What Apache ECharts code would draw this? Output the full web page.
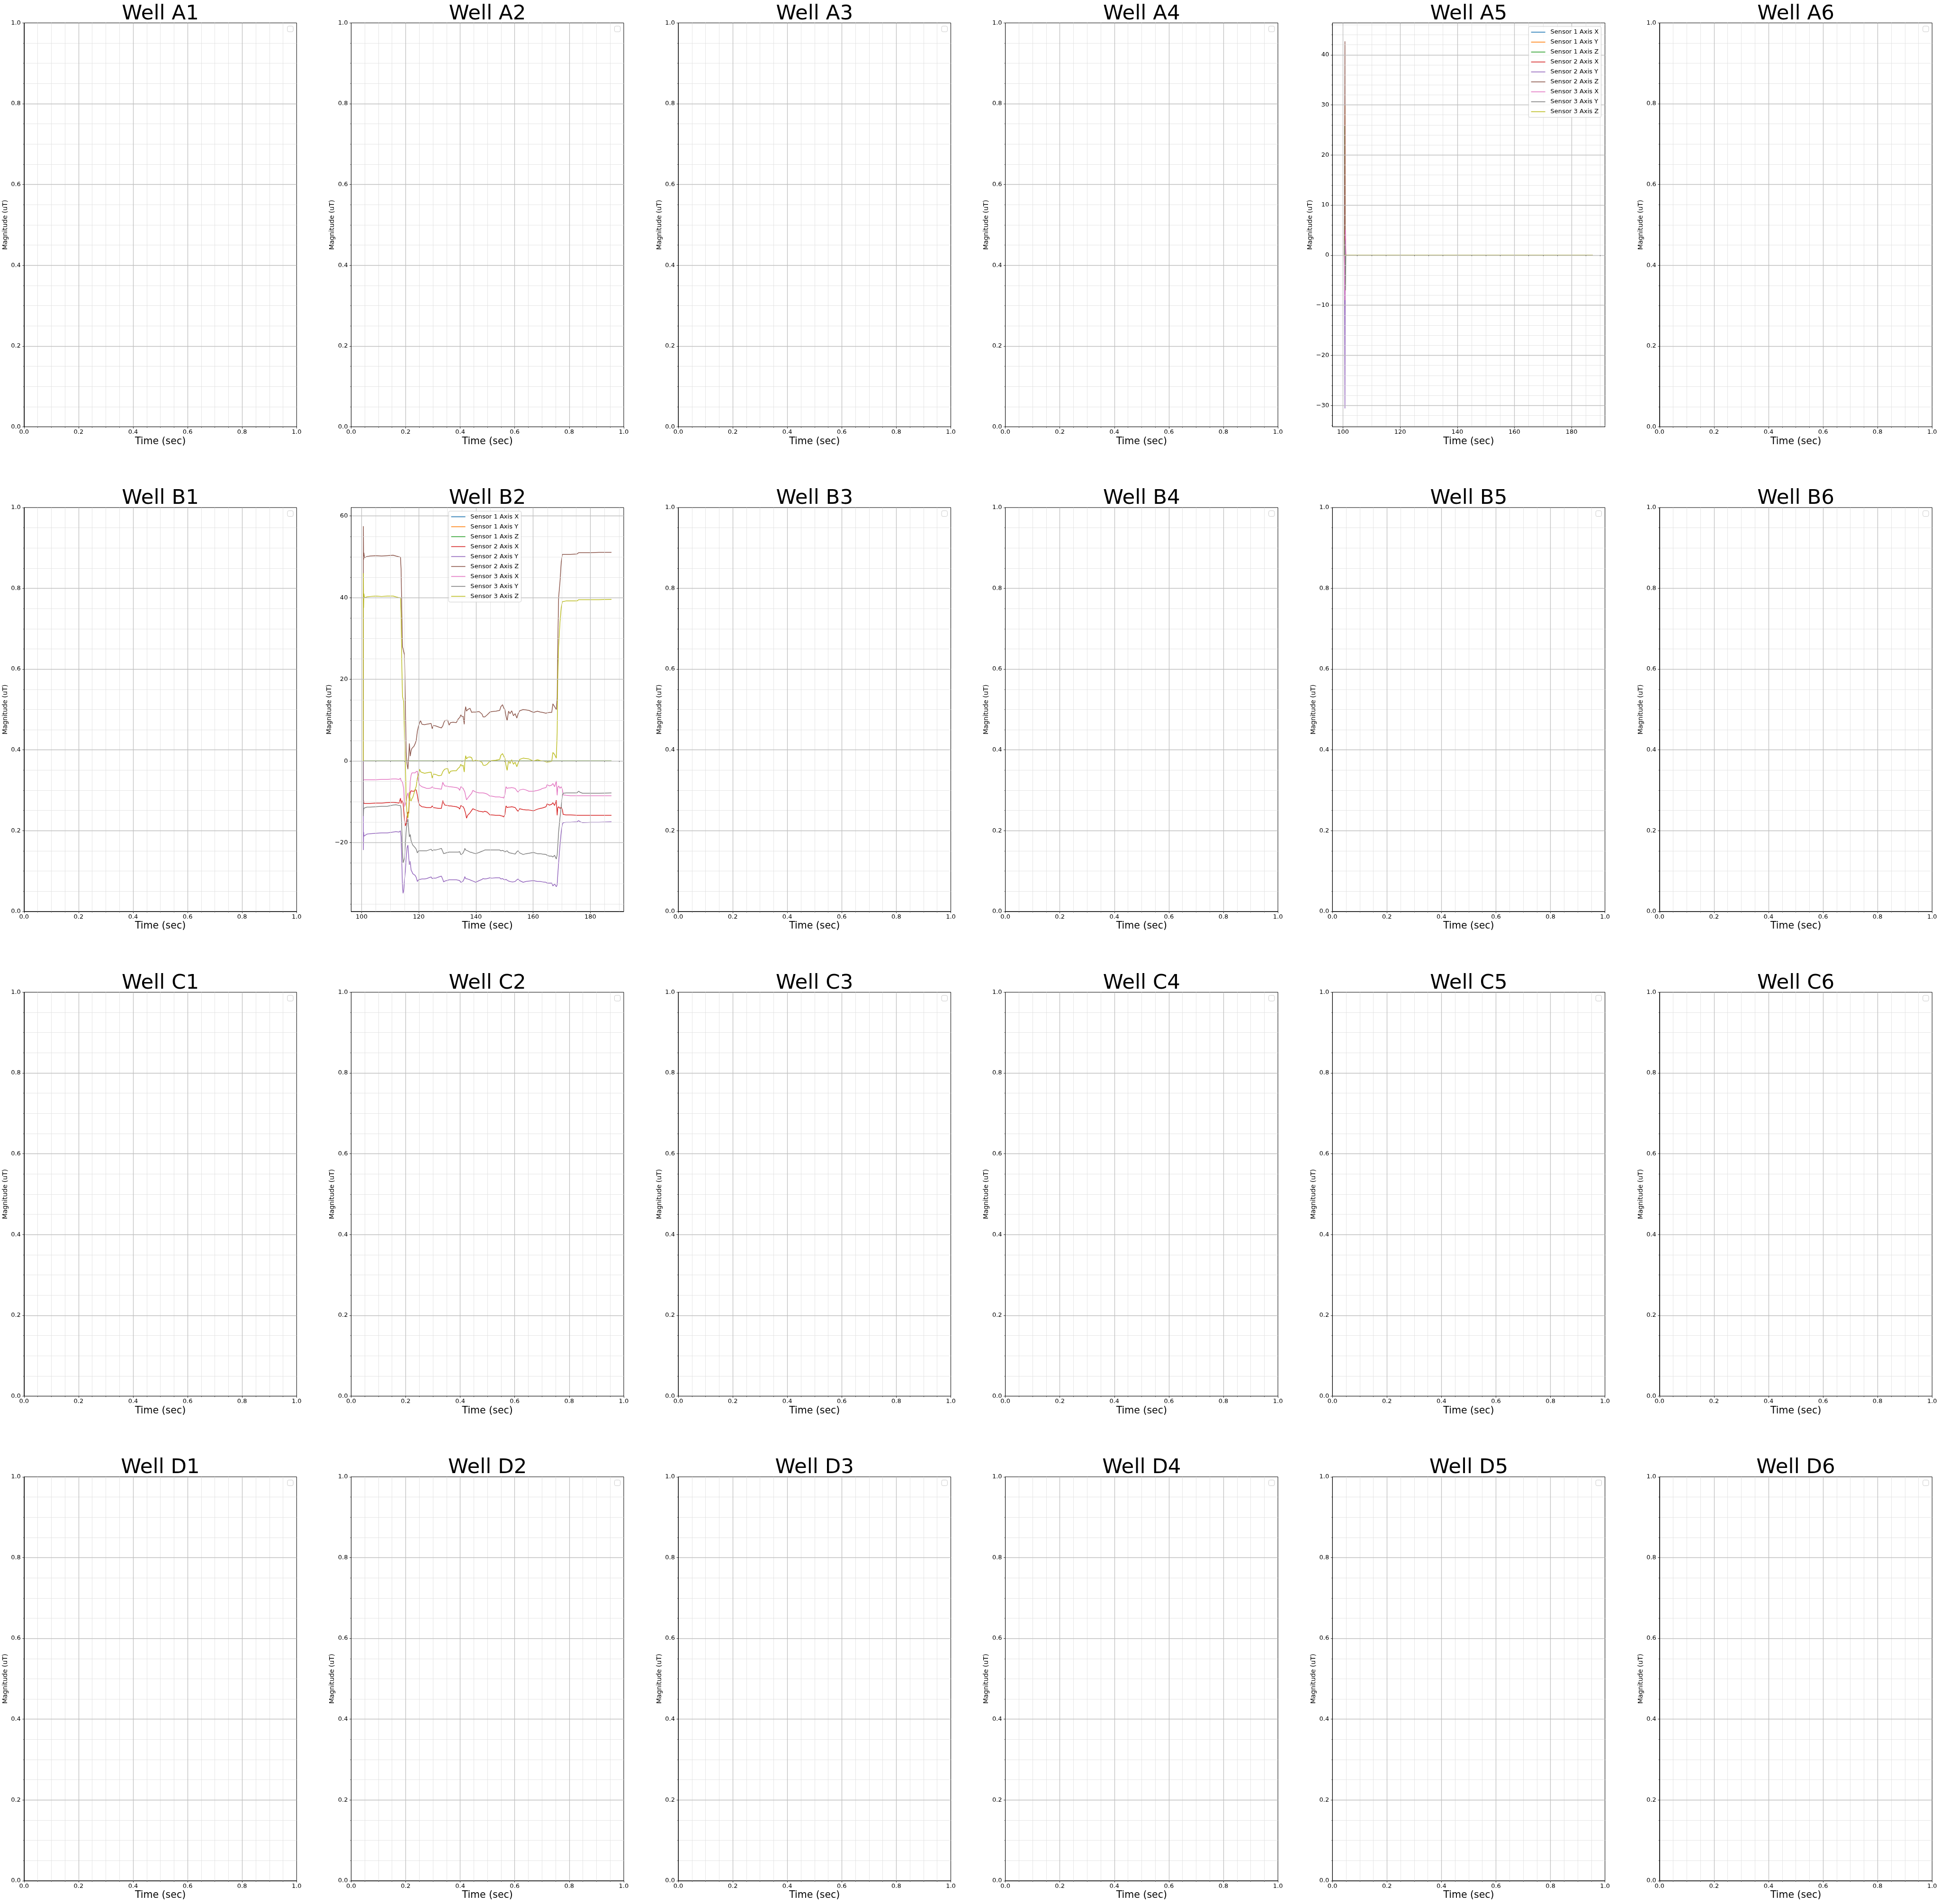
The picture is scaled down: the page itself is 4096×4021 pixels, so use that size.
<!DOCTYPE html>
<html><head><meta charset="utf-8">
<script src="https://cdn.jsdelivr.net/npm/echarts@6/dist/echarts.min.js"></script>
<style>html,body{margin:0;padding:0;background:#fff}#c{width:4096px;height:4021px}</style>
</head><body><div id="c"></div>
<script>
// ---------- labels / categories ----------
const wellRows = ['A', 'B', 'C', 'D'];
const wellCols = ['1', '2', '3', '4', '5', '6'];
const sensorNames = ['Sensor 1 Axis X', 'Sensor 1 Axis Y', 'Sensor 1 Axis Z',
  'Sensor 2 Axis X', 'Sensor 2 Axis Y', 'Sensor 2 Axis Z',
  'Sensor 3 Axis X', 'Sensor 3 Axis Y', 'Sensor 3 Axis Z'];
const sensorColors = ['#1f77b4', '#ff7f0e', '#2ca02c', '#d62728', '#9467bd', '#8c564b', '#e377c2', '#7f7f7f', '#bcbd22'];

// ---------- tick values ----------
const unitTicks = [0, 0.2, 0.4, 0.6, 0.8, 1.0];
const unitMinorTicks = [0.05, 0.1, 0.15, 0.25, 0.3, 0.35, 0.45, 0.5, 0.55, 0.65, 0.7, 0.75, 0.85, 0.9, 0.95];
const timeTicks = [100, 120, 140, 160, 180];
const timeMinorTicks = [105, 110, 115, 125, 130, 135, 145, 150, 155, 165, 170, 175, 185, 190];
const a5MagTicks = [-30, -20, -10, 0, 10, 20, 30, 40];
const a5MagMinorTicks = [-34, -32, -28, -26, -24, -22, -18, -16, -14, -12, -8, -6, -4, -2, 2, 4, 6, 8, 12, 14, 16, 18, 22, 24, 26, 28, 32, 34, 36, 38, 42, 44, 46];
const b2MagTicks = [-20, 0, 20, 40, 60];
const b2MagMinorTicks = [-35, -30, -25, -15, -10, -5, 5, 10, 15, 25, 30, 35, 45, 50, 55];

// ---------- Well A5 data ----------
const a5Time = [100.5, 100.58, 100.68, 100.78, 100.88, 101.0, 187.4];
const a5S1X = [0, 0, 0, 0, 0, 0, 0];
const a5S1Y = [0, 0, 30.0, 0, 0, 0, 0];
const a5S1Z = [0, 25.8, 0, 0, 0, 0, 0];
const a5S2X = [0, 0, -10.5, 1.0, 0, 0, 0];
const a5S2Y = [0, 0, -30.6, -7.0, 0, 0, 0];
const a5S2Z = [0, 0, 42.7, -7.1, 3.3, 0, 0];
const a5S3X = [0, 0, -9.0, 0, 5.1, 0, 0];
const a5S3Y = [0, 0, 3.0, -2.0, -7.0, 0, 0];
const a5S3Z = [0, 0, 0, 0, 0, 0, 0];

// ---------- Well B2 data ----------
const b2S1Time = [100.55, 187.4];
const b2S1X = [0, 0];
const b2S1Y = [0, 0];
const b2S1Z = [0, 0];
const b2Time = [100.55,100.62,100.7,100.8,101.0,101.9,103,105,107,109,
 111,112,113.1,113.6,113.8,114.1,114.3,114.5,114.7,115.0,
 115.3,115.6,115.9,116.2,116.5,116.7,117.0,117.3,117.6,117.9,
 118.3,118.7,119.1,119.5,119.9,120.3,120.6,121.1,122,122.7,
 123.5,124.3,124.7,125.1,125.9,127,127.9,128.4,128.7,129.1,
 130.1,130.6,131.1,132,133.1,133.9,134.3,134.7,135.1,135.5,
 135.9,136.1,136.4,136.7,137.1,137.9,138.5,138.9,139.9,141.1,
 142.1,142.5,143.1,143.9,144.9,145.5,146.9,148.3,148.7,149.3,
 149.7,150.1,150.5,150.9,151.4,151.9,152.5,153.1,153.7,154.3,
 154.7,155.3,156.5,157.5,158.5,160.1,161.5,162.5,163.3,164.5,
 164.9,165.7,166.5,166.9,167.5,168.1,168.4,168.6,168.9,169.4,
 169.8,170.2,170.5,171.5,173,175.3,175.9,176.5,177.3,180,
 183,187.4];
const b2S2X = [0,-10.0,-9.7,-10.4,-10.4,-10.4,-10.4,-10.3,-10.3,-10.2,
 -10.1,-10.2,-10.3,-9.1,-10.4,-9.7,-10.0,-10.3,-12.0,-14.4,
 -15.9,-15.2,-13.5,-12.5,-12.8,-9.3,-7.8,-7.3,-7.2,-7.4,
 -7.4,-7.1,-7.1,-8.4,-10.1,-10.8,-11.0,-11.2,-11.3,-11.4,
 -11.4,-11.4,-11.0,-11.4,-11.5,-11.6,-11.6,-9.7,-10.3,-10.8,
 -10.9,-11.0,-11.0,-11.1,-11.2,-11.4,-11.8,-10.9,-11.1,-11.2,
 -11.7,-11.8,-12.9,-14.0,-13.3,-12.7,-12.1,-11.7,-12.0,-12.3,
 -12.4,-12.5,-12.3,-12.5,-13.2,-13.2,-13.3,-13.3,-13.4,-13.5,
 -13.7,-13.1,-11.0,-11.4,-11.3,-11.3,-11.2,-11.3,-11.4,-12.0,
 -12.3,-11.7,-11.9,-12.0,-12.0,-12.2,-11.8,-11.6,-11.5,-11.2,
 -10.5,-10.8,-10.6,-10.2,-10.9,-9.6,-13.3,-11.5,-11.2,-11.6,
 -11.3,-11.8,-13.1,-13.2,-13.2,-13.3,-13.3,-13.3,-13.3,-13.3,
 -13.3,-13.3];
const b2S2Y = [0,-21.8,-17.4,-18.4,-18.2,-17.9,-17.8,-17.7,-17.6,-17.6,
 -17.4,-17.3,-17.4,-17.1,-18.6,-25.9,-31.0,-32.4,-31.8,-29.0,
 -27.0,-23.5,-21.2,-20.6,-23.7,-25.4,-24.6,-26.7,-27.1,-27.6,
 -27.8,-28.0,-28.5,-29.5,-29.1,-29.0,-29.0,-28.9,-28.9,-28.8,
 -28.6,-28.4,-28.8,-28.7,-28.7,-28.4,-28.2,-29.0,-29.6,-29.4,
 -29.2,-29.1,-29.1,-29.1,-29.1,-29.2,-29.3,-29.7,-29.6,-29.4,
 -28.8,-28.3,-28.8,-28.9,-28.9,-29.1,-29.3,-29.4,-29.7,-29.3,
 -29.0,-28.8,-28.9,-28.8,-28.6,-28.7,-28.6,-28.6,-28.9,-28.8,
 -29.0,-29.1,-29.0,-29.2,-29.4,-29.5,-29.6,-29.6,-29.5,-29.1,
 -28.9,-29.3,-29.7,-29.5,-29.4,-29.3,-29.5,-29.5,-29.6,-29.7,
 -29.9,-29.9,-29.9,-30.6,-30.1,-30.8,-30.3,-28.0,-25.0,-20.5,
 -17.5,-15.5,-15.1,-15.0,-15.0,-14.9,-14.6,-14.9,-15.1,-15.0,
 -15.0,-14.9];
const b2S2Z = [0,57.5,49.3,51.0,49.8,50.1,50.2,50.3,50.2,50.3,
 50.4,50.2,50.0,49.9,47.0,35.0,28.0,27.5,26.8,26.0,
 14.0,2.0,-0.8,-2.0,1.5,4.3,1.2,2.5,3.1,3.0,
 3.6,4.2,5.0,7.3,8.5,9.4,9.9,9.0,8.9,9.0,
 9.1,9.2,7.9,8.7,8.6,8.3,8.1,8.6,9.3,9.9,
 10.0,8.8,9.4,9.5,9.4,10.4,10.6,11.3,10.8,11.0,
 9.0,12.0,13.3,12.2,12.6,12.9,11.9,12.0,12.0,12.1,
 11.5,10.8,10.8,11.3,12.0,12.1,12.2,12.4,13.3,13.8,
 13.0,12.6,11.0,9.9,12.2,11.6,12.3,11.1,11.6,10.5,
 11.5,12.3,12.6,12.5,12.4,11.9,12.2,12.0,11.9,11.7,
 11.8,11.9,11.9,14.0,13.3,12.6,15.5,28.0,40.0,44.0,
 48.5,50.6,50.6,50.6,50.6,50.7,51.0,51.0,51.0,51.0,
 51.1,51.1];
const b2S3X = [0,-4.6,-4.7,-4.6,-4.6,-4.6,-4.6,-4.6,-4.5,-4.5,
 -4.4,-4.4,-4.5,-4.2,-4.8,-5.0,-5.2,-5.4,-6.7,-11.2,
 -11.0,-9.9,-8.5,-7.8,-9.0,-9.5,-5.0,-3.5,-2.9,-2.7,
 -2.9,-2.9,-2.6,-2.5,-5.0,-5.9,-6.1,-6.3,-6.5,-6.7,
 -6.7,-6.6,-6.3,-6.6,-6.7,-6.8,-6.9,-5.2,-5.7,-6.1,
 -6.2,-6.3,-6.3,-6.4,-6.5,-6.7,-7.2,-6.3,-6.5,-6.7,
 -7.3,-7.6,-8.6,-9.5,-9.1,-8.4,-7.9,-7.2,-7.6,-7.8,
 -7.8,-7.8,-7.9,-8.1,-8.6,-8.6,-8.8,-8.8,-8.9,-8.9,
 -9.1,-8.2,-6.3,-6.7,-6.6,-6.6,-6.5,-6.6,-6.7,-7.3,
 -7.6,-7.1,-6.9,-7.1,-7.4,-7.4,-7.2,-7.0,-6.7,-6.5,
 -5.8,-6.1,-5.9,-5.5,-6.3,-4.9,-8.4,-6.5,-6.1,-6.7,
 -6.3,-6.9,-8.3,-8.4,-8.5,-8.5,-8.5,-8.5,-8.5,-8.5,
 -8.5,-8.5];
const b2S3Y = [0,-13.5,-11.8,-11.6,-11.5,-11.3,-11.3,-11.2,-11.1,-11.1,
 -10.8,-10.7,-10.9,-10.9,-11.8,-17.4,-22.9,-24.9,-24.5,-23.7,
 -20.3,-17.0,-15.0,-14.2,-17.0,-18.6,-18.0,-19.5,-20.1,-20.6,
 -20.9,-21.2,-21.6,-22.5,-22.0,-22.0,-22.1,-22.0,-22.0,-22.0,
 -21.8,-21.6,-22.0,-21.8,-21.8,-21.6,-21.4,-22.2,-22.7,-22.6,
 -22.4,-22.3,-22.3,-22.3,-22.3,-22.3,-22.2,-22.9,-22.8,-22.5,
 -21.9,-21.4,-21.8,-21.9,-22.0,-22.3,-22.4,-22.5,-22.7,-22.4,
 -22.1,-22.0,-21.8,-21.8,-21.8,-21.8,-21.8,-21.8,-22.0,-21.9,
 -22.0,-22.3,-22.1,-22.0,-22.4,-22.5,-22.6,-22.7,-22.8,-22.2,
 -22.0,-22.5,-22.9,-22.7,-22.6,-22.4,-22.7,-22.7,-22.8,-22.9,
 -23.1,-23.3,-23.3,-23.5,-23.1,-24.0,-23.0,-21.0,-17.4,-13.8,
 -11.3,-8.4,-7.9,-7.8,-7.8,-7.8,-7.4,-7.7,-7.9,-7.9,
 -7.9,-7.8];
const b2S3Z = [0,46.0,37.5,41.0,40.0,40.2,40.3,40.4,40.3,40.4,
 40.4,40.2,40.0,40.0,36.0,22.0,15.8,15.2,14.6,6.0,
 0.0,-10.0,-12.8,-14.0,-12.0,-7.6,-9.5,-9.8,-9.2,-8.9,
 -8.0,-7.0,-6.2,-4.2,-3.3,-2.0,-2.6,-2.8,-3.0,-2.9,
 -2.8,-2.7,-4.2,-3.2,-3.3,-3.6,-3.5,-2.6,-2.3,-2.0,
 -1.8,-3.1,-2.5,-2.4,-2.4,-1.7,-1.5,-0.8,-1.3,-1.0,
 -2.7,-0.3,1.3,0.5,0.9,1.0,0.8,-0.1,0.2,0.0,
 -0.3,-1.0,-1.1,-0.8,0.0,0.1,0.2,0.4,1.4,1.8,
 1.2,0.7,-1.0,-2.3,0.1,-0.6,0.3,-0.8,-0.3,-1.4,
 -0.6,0.4,0.7,0.6,0.5,0.0,0.3,0.1,0.0,-0.2,
 -0.3,-0.2,-0.1,2.1,1.6,0.7,7.0,20.0,28.0,34.2,
 37.4,39.0,39.1,39.2,39.2,39.2,39.5,39.5,39.5,39.5,
 39.5,39.6];

// ---------- layout / style ----------
const FONT = 'DejaVu Sans';
const CW = 4096;
const L = { left0: 50.8, colPitch: 690.6, gridW: 575.5, top0: 48.4, rowPitch: 1023.5, gridH: 853.0 };
const majorGrid = { color: '#bfbfbf', width: 1.3, type: 'solid' };
const minorGrid = { color: '#dedede', width: 0.8, type: 'solid' };

function fmtNum(v, dec) {
  const s = Math.abs(v).toFixed(dec);
  return v < 0 ? '\u2212' + s : s;
}

const panelCfg = {
  'A5': {
    xMin: 96.3, xMax: 191.7, yMin: -34.27, yMax: 46.37,
    xTicks: timeTicks, xMinor: timeMinorTicks, yTicks: a5MagTicks, yMinor: a5MagMinorTicks,
    xDec: 0, yDec: 0, yNameGap: 39.4, legend: 'right',
    series: [[a5Time, a5S1X], [a5Time, a5S1Y], [a5Time, a5S1Z], [a5Time, a5S2X], [a5Time, a5S2Y],
             [a5Time, a5S2Z], [a5Time, a5S3X], [a5Time, a5S3Y], [a5Time, a5S3Z]]
  },
  'B2': {
    xMin: 96.34, xMax: 191.68, yMin: -36.85, yMax: 62.07,
    xTicks: timeTicks, xMinor: timeMinorTicks, yTicks: b2MagTicks, yMinor: b2MagMinorTicks,
    xDec: 0, yDec: 0, yNameGap: 39.4, legend: 'center',
    series: [[b2S1Time, b2S1X], [b2S1Time, b2S1Y], [b2S1Time, b2S1Z], [b2Time, b2S2X], [b2Time, b2S2Y],
             [b2Time, b2S2Z], [b2Time, b2S3X], [b2Time, b2S3Y], [b2Time, b2S3Z]]
  }
};
const emptyCfg = {
  xMin: 0, xMax: 1, yMin: 0, yMax: 1,
  xTicks: unitTicks, xMinor: unitMinorTicks, yTicks: unitTicks, yMinor: unitMinorTicks,
  xDec: 1, yDec: 1, yNameGap: 32.7, legend: 'empty', series: null
};

const option = {
  animation: false, backgroundColor: '#ffffff',
  grid: [], xAxis: [], yAxis: [], series: [], legend: [],
  graphic: { elements: [] }
};

wellRows.forEach((rw, r) => {
  wellCols.forEach((cl, c) => {
    const key = rw + cl;
    const cfg = panelCfg[key] || emptyCfg;
    const gi = r * 6 + c;
    const left = L.left0 + c * L.colPitch;
    const top = L.top0 + r * L.rowPitch;
    option.grid.push({ left: left, top: top, width: L.gridW, height: L.gridH,
      show: true, borderColor: '#000', borderWidth: 1, backgroundColor: 'transparent' });

    option.xAxis.push({
      type: 'value', gridIndex: gi, min: cfg.xMin, max: cfg.xMax, position: 'bottom', z: 5,
      axisLine: { show: true, onZero: false, lineStyle: { color: '#000', width: 1 } },
      axisTick: { show: true, length: 3.5, customValues: cfg.xTicks, lineStyle: { color: '#000', width: 0.8 } },
      axisLabel: { show: true, customValues: cfg.xTicks, margin: 5, fontSize: 13, fontFamily: FONT, color: '#000',
        formatter: v => fmtNum(v, cfg.xDec) },
      splitLine: { show: false }, minorTick: { show: false }, minorSplitLine: { show: false },
      name: 'Time (sec)', nameLocation: 'middle', nameGap: 20.6,
      nameTextStyle: { fontSize: 20.5, fontFamily: FONT, color: '#000' }
    });
    option.xAxis.push({
      type: 'value', gridIndex: gi, min: cfg.xMin, max: cfg.xMax, position: 'bottom', z: 5,
      axisLine: { show: false },
      axisTick: { show: true, length: 2, customValues: cfg.xMinor, lineStyle: { color: '#000', width: 0.6 } },
      axisLabel: { show: false }, splitLine: { show: false }
    });
    option.yAxis.push({
      type: 'value', gridIndex: gi, min: cfg.yMin, max: cfg.yMax, position: 'left', z: 5,
      axisLine: { show: true, onZero: false, lineStyle: { color: '#000', width: 1 } },
      axisTick: { show: true, length: 3.5, customValues: cfg.yTicks, lineStyle: { color: '#000', width: 0.8 } },
      axisLabel: { show: true, customValues: cfg.yTicks, margin: 7, fontSize: 13, fontFamily: FONT, color: '#000',
        formatter: v => fmtNum(v, cfg.yDec) },
      splitLine: { show: false }, minorTick: { show: false }, minorSplitLine: { show: false },
      name: 'Magnitude (uT)', nameLocation: 'middle', nameRotate: 90, nameGap: cfg.yNameGap,
      nameTextStyle: { fontSize: 13.8, fontFamily: FONT, color: '#000' }
    });
    option.yAxis.push({
      type: 'value', gridIndex: gi, min: cfg.yMin, max: cfg.yMax, position: 'left', z: 5,
      axisLine: { show: false },
      axisTick: { show: true, length: 2, customValues: cfg.yMinor, lineStyle: { color: '#000', width: 0.6 } },
      axisLabel: { show: false }, splitLine: { show: false }
    });

    const inX = v => v > cfg.xMin && v < cfg.xMax;
    const inY = v => v > cfg.yMin && v < cfg.yMax;
    const mlData = [].concat(
      cfg.xMinor.filter(inX).map(v => ({ xAxis: v, lineStyle: minorGrid })),
      cfg.yMinor.filter(inY).map(v => ({ yAxis: v, lineStyle: minorGrid })),
      cfg.xTicks.filter(inX).map(v => ({ xAxis: v, lineStyle: majorGrid })),
      cfg.yTicks.filter(inY).map(v => ({ yAxis: v, lineStyle: majorGrid }))
    );
    option.series.push({
      type: 'line', xAxisIndex: gi * 2, yAxisIndex: gi * 2, data: [], silent: true, z: 1,
      markLine: { silent: true, animation: false, symbol: ['none', 'none'], label: { show: false },
        emphasis: { disabled: true }, data: mlData }
    });

    if (cfg.series) {
      cfg.series.forEach((pair, k) => {
        const tArr = pair[0], vArr = pair[1];
        option.series.push({
          type: 'line', name: sensorNames[k], xAxisIndex: gi * 2, yAxisIndex: gi * 2,
          data: tArr.map((t, i) => [t, vArr[i]]),
          showSymbol: false, symbol: 'none', silent: true, z: 3 + k * 0.01, clip: true,
          lineStyle: { width: 1.5, color: sensorColors[k] }, itemStyle: { color: sensorColors[k] }
        });
      });
      const lg = {
        show: true, orient: 'vertical', top: top + 7.5,
        data: sensorNames.map(n => ({ name: n, icon: 'rect' })),
        itemWidth: 30, itemHeight: 1.6, itemGap: 6, selectedMode: false,
        textStyle: { fontSize: 13.1, fontFamily: FONT, color: '#000', lineHeight: 15, padding: [0, 0, 0, 5.8] },
        padding: [4.5, 5.4, 4.5, 5.4], backgroundColor: 'rgba(255,255,255,0.8)',
        borderColor: '#cccccc', borderWidth: 1, borderRadius: 3, z: 20
      };
      if (cfg.legend === 'right') lg.right = CW - (left + L.gridW) + 8;
      else lg.left = left + L.gridW / 2 - 82;
      option.legend.push(lg);
    } else {
      option.graphic.elements.push({
        type: 'rect', z: 20,
        shape: { x: left + L.gridW - 7.2 - 12.3, y: top + 6.7, width: 12.3, height: 12, r: 3 },
        style: { fill: 'rgba(255,255,255,0.8)', stroke: '#cccccc', lineWidth: 1 }
      });
    }

    option.graphic.elements.push({
      type: 'text', z: 20, x: left + L.gridW / 2, y: top + 3,
      style: { text: 'Well ' + key, fontSize: 43.5, fontFamily: FONT, fill: '#000',
        align: 'center', verticalAlign: 'bottom', textAlign: 'center', textVerticalAlign: 'bottom' }
    });
  });
});

const chart = echarts.init(document.getElementById('c'), null, { renderer: 'canvas', width: 4096, height: 4021 });
chart.setOption(option);
</script>
</body></html>
